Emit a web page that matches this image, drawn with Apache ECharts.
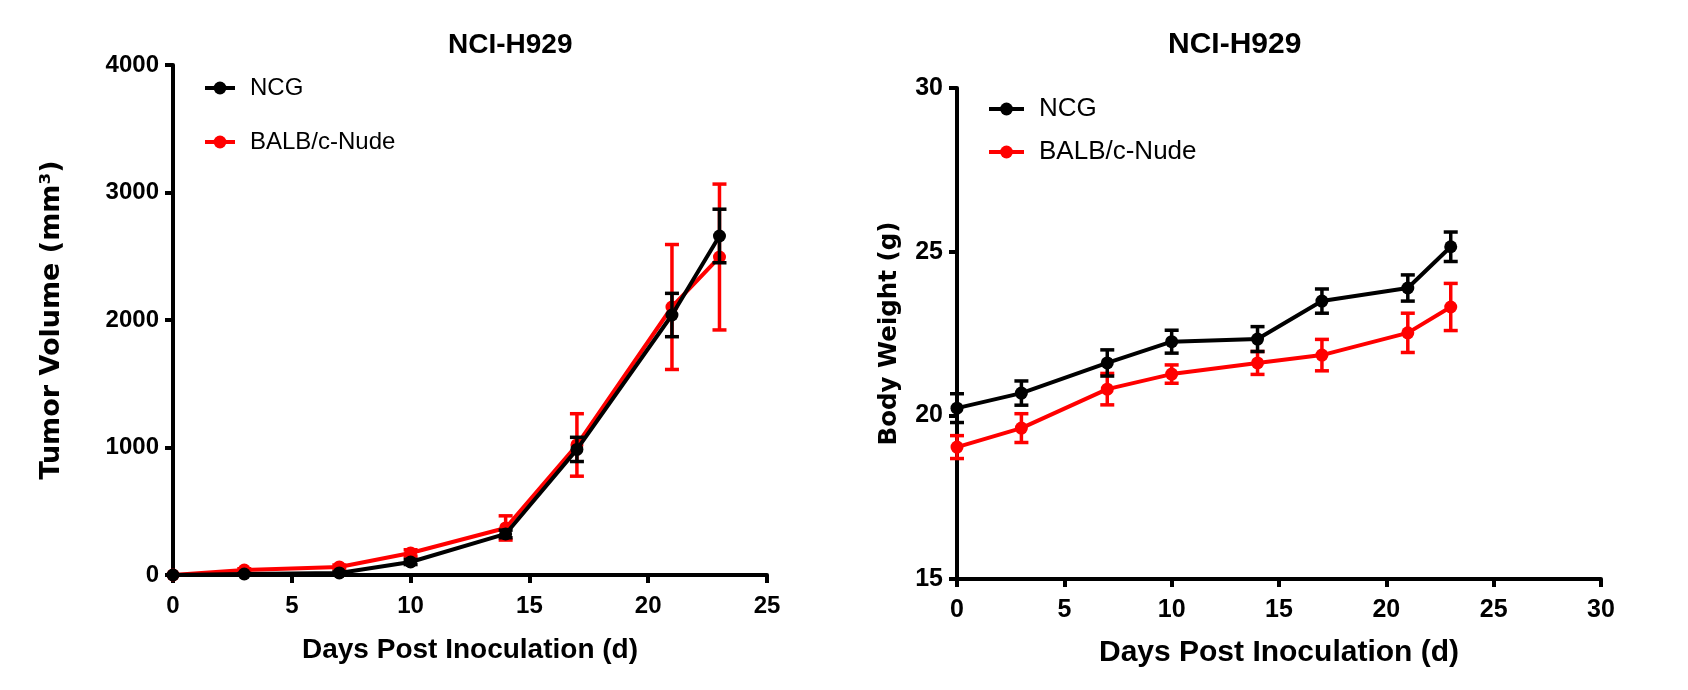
<!DOCTYPE html>
<html>
<head>
<meta charset="utf-8">
<script src="https://cdn.jsdelivr.net/npm/echarts@6/dist/echarts.min.js"></script>
<style>
html,body{margin:0;padding:0;background:#fff;}
#chart{width:1688px;height:690px;}
</style>
</head>
<body>
<div id="chart"></div>
<script>
// ---- data ----
var days = [0, 3, 7, 10, 14, 17, 21, 23];
var seriesNames = ['NCG', 'BALB/c-Nude'];
var tumorNCG = [0, 8, 16, 102, 322, 985, 2039, 2659];
var tumorNCGErr = [0, 3, 8, 20, 30, 95, 170, 210];
var tumorBALB = [0, 39, 63, 173, 369, 1020, 2102, 2494];
var tumorBALBErr = [0, 10, 15, 25, 95, 245, 490, 572];
var weightNCG = [20.22, 20.68, 21.6, 22.25, 22.33, 23.49, 23.89, 25.15];
var weightNCGErr = [0.44, 0.37, 0.4, 0.35, 0.38, 0.37, 0.4, 0.45];
var weightBALB = [19.03, 19.61, 20.8, 21.26, 21.6, 21.84, 22.52, 23.31];
var weightBALBErr = [0.35, 0.44, 0.48, 0.28, 0.35, 0.48, 0.6, 0.72];
var chartTitles = ['NCI-H929', 'NCI-H929'];
var xAxisTitle = 'Days Post Inoculation (d)';
var yAxisTitles = ['Tumor Volume (mm³)', 'Body Weight (g)'];

var colors = {NCG: '#000000', 'BALB/c-Nude': '#ff0000'};

function pairs(xs, ys) { return xs.map(function (x, i) { return [x, ys[i]]; }); }
function triples(xs, ys, es) { return xs.map(function (x, i) { return [x, ys[i], es[i]]; }); }

function errRender(color) {
  return function (params, api) {
    var x = api.value(0), y = api.value(1), e = api.value(2);
    var top = api.coord([x, y + e]);
    var bot = api.coord([x, y - e]);
    var hw = 7;
    var st = {stroke: color, lineWidth: 3.5};
    return {
      type: 'group',
      children: [
        {type: 'line', shape: {x1: top[0], y1: top[1], x2: bot[0], y2: bot[1]}, style: st},
        {type: 'line', shape: {x1: top[0] - hw, y1: top[1], x2: top[0] + hw, y2: top[1]}, style: st},
        {type: 'line', shape: {x1: bot[0] - hw, y1: bot[1], x2: bot[0] + hw, y2: bot[1]}, style: st}
      ]
    };
  };
}

var axisLine = {show: true, onZero: false, lineStyle: {color: '#000', width: 4}};
var axisTick = {show: true, length: 8, lineStyle: {color: '#000', width: 4}};
function tickFont(fs) { return {fontFamily: 'Liberation Sans', fontWeight: 'bold', fontSize: fs, color: '#000'}; }

function xAx(idx, max, gap, fs, nfs) {
  return {
    type: 'value', gridIndex: idx, min: 0, max: max, interval: 5,
    axisLine: axisLine, axisTick: axisTick, splitLine: {show: false},
    axisLabel: Object.assign({margin: 19, formatter: function (v) { return String(v); }}, tickFont(fs)),
    name: xAxisTitle, nameLocation: 'middle', nameGap: gap,
    nameTextStyle: {fontFamily: 'Liberation Sans', fontWeight: 'bold', fontSize: nfs, color: '#000'}
  };
}
function yAx(idx, min, max, interval, gap, fs, nfs) {
  return {
    type: 'value', gridIndex: idx, min: min, max: max, interval: interval,
    axisLine: axisLine, axisTick: axisTick, splitLine: {show: false},
    axisLabel: Object.assign({margin: 14, formatter: function (v) { return String(v); }}, tickFont(fs)),
    name: yAxisTitles[idx], nameLocation: 'middle', nameGap: gap, nameRotate: 90,
    nameTextStyle: {fontFamily: 'DejaVu Sans', fontWeight: 'bold', fontSize: nfs, color: '#000'}
  };
}

function lineSeries(name, xi, vals, z) {
  return {
    name: name, type: 'line', xAxisIndex: xi, yAxisIndex: xi,
    data: pairs(days, vals), symbol: 'circle', symbolSize: 13,
    itemStyle: {color: colors[name]}, lineStyle: {color: colors[name], width: 4},
    z: z, animation: false
  };
}
function errSeries(name, xi, vals, errs, z) {
  return {
    name: name + ' SEM', type: 'custom', xAxisIndex: xi, yAxisIndex: xi,
    data: triples(days, vals, errs), encode: {x: 0, y: 1},
    itemStyle: {color: colors[name]},
    renderItem: errRender(colors[name]), z: z, animation: false, silent: true
  };
}

function legendOpt(left, top, w, gap, fs) {
  return {
    left: left, top: top, orient: 'vertical', itemWidth: w, itemHeight: 16, itemGap: gap, data: seriesNames,
    lineStyle: {width: 4}, selectedMode: false,
    textStyle: {fontFamily: 'Liberation Sans', fontSize: fs, color: '#000', padding: [0, 0, 0, 10]}
  };
}

var chart = echarts.init(document.getElementById('chart'));
chart.setOption({
  backgroundColor: '#fff',
  animation: false,
  title: [
    {text: chartTitles[0], left: 443, top: 26, textStyle: {fontFamily: 'Liberation Sans', fontWeight: 'bold', fontSize: 28, color: '#000'}},
    {text: chartTitles[1], left: 1163, top: 25, textStyle: {fontFamily: 'Liberation Sans', fontWeight: 'bold', fontSize: 30, color: '#000'}}
  ],
  legend: [legendOpt(198, 71, 30, 30, 24), legendOpt(982, 91, 35, 17, 26)],
  grid: [
    {left: 173, right: 921, top: 65, bottom: 115, containLabel: false},
    {left: 957, right: 87, top: 88, bottom: 111, containLabel: false}
  ],
  xAxis: [xAx(0, 25, 61, 24, 28), xAx(1, 30, 59, 25, 30)],
  yAxis: [yAx(0, 0, 4000, 1000, 108, 24, 27), yAx(1, 15, 30, 5, 55, 25, 24.5)],
  series: [
    errSeries('BALB/c-Nude', 0, tumorBALB, tumorBALBErr, 2),
    lineSeries('BALB/c-Nude', 0, tumorBALB, 3),
    errSeries('NCG', 0, tumorNCG, tumorNCGErr, 4),
    lineSeries('NCG', 0, tumorNCG, 5),
    errSeries('BALB/c-Nude', 1, weightBALB, weightBALBErr, 2),
    lineSeries('BALB/c-Nude', 1, weightBALB, 3),
    errSeries('NCG', 1, weightNCG, weightNCGErr, 4),
    lineSeries('NCG', 1, weightNCG, 5)
  ]
});
</script>
</body>
</html>
